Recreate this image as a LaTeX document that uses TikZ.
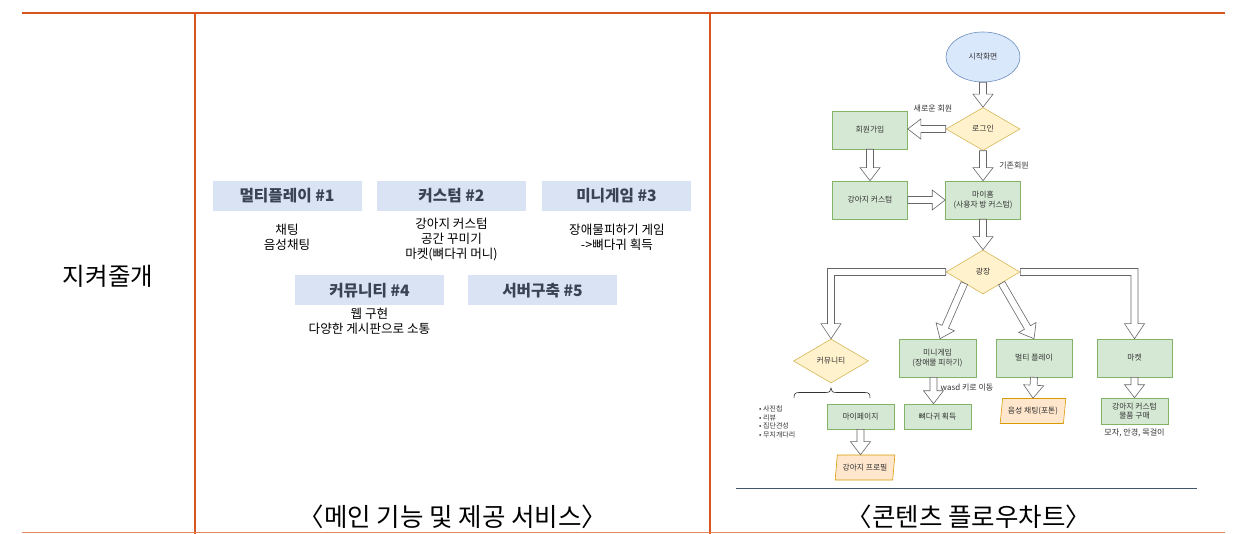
\documentclass[tikz,border=0pt]{standalone}
\usepackage{fontspec}
\setmainfont{Noto Sans CJK KR}
\usetikzlibrary{shapes.geometric,calc}
\definecolor{lineO}{HTML}{D9541E}
\definecolor{lineOL}{HTML}{E8835A}
\definecolor{navyL}{HTML}{44546A}
\definecolor{tblue}{HTML}{DAE3F3}
\definecolor{titleC}{HTML}{3A4354}
\definecolor{blueF}{HTML}{DAE8FC}
\definecolor{blueD}{HTML}{6C8EBF}
\definecolor{yelF}{HTML}{FFF2CC}
\definecolor{yelD}{HTML}{D6B656}
\definecolor{grnF}{HTML}{D5E8D4}
\definecolor{grnD}{HTML}{82B366}
\definecolor{orgF}{HTML}{FFE6CC}
\definecolor{orgD}{HTML}{D79B00}
\definecolor{arrD}{HTML}{666666}
\definecolor{fcText}{HTML}{333333}
\tikzset{
  fc/.style={font=\fontsize{7.8}{9.2}\selectfont, text=fcText, inner sep=0pt, align=center},
  ellbox/.style={fc, ellipse, draw=blueD, fill=blueF, line width=0.6pt, minimum width=74pt, minimum height=50pt},
  gbox/.style={fc, rectangle, draw=grnD, fill=grnF, line width=0.6pt, minimum width=75pt, minimum height=38pt},
  sbox/.style={gbox, minimum width=67pt, minimum height=25pt},
  ydia/.style={fc, diamond, draw=yelD, fill=yelF, line width=0.6pt, minimum width=74pt, minimum height=43pt},
  para/.style={fc, trapezium, trapezium left angle=76, trapezium right angle=104, trapezium stretches=true, draw=orgD, fill=orgF, line width=0.6pt, minimum height=25pt},
  harrow/.style={draw=arrD, fill=white, line width=0.6pt, line join=miter},
  elab/.style={fc, font=\fontsize{8}{9}\selectfont},
  tbox/.style={fill=tblue, minimum width=149pt, minimum height=30pt, inner sep=0pt, font=\fontsize{15.7}{17}\selectfont\bfseries, text=titleC},
  body/.style={font=\fontsize{12.6}{14.8}\selectfont, align=center, inner sep=0pt},
  captxt/.style={font=\fontsize{25.5}{28}\selectfont, inner sep=0pt}
}
\newcommand\harr[2]{%
  \coordinate (hbA) at ($(#2)!13pt!(#1)$);
  \draw[harrow] ($(#1)!3.5pt!90:(#2)$) -- ($(hbA)!3.5pt!90:(#2)$) -- ($(hbA)!10pt!90:(#2)$) -- (#2) -- ($(hbA)!10pt!-90:(#2)$) -- ($(hbA)!3.5pt!-90:(#2)$) -- ($(#1)!3.5pt!-90:(#2)$) -- cycle;}
\begin{document}
\begin{tikzpicture}[x=1pt,y=-1pt]
\useasboundingbox (0,0) rectangle (1239,534);
% table lines
\draw[lineO, line width=1.6pt] (22,13) -- (1225,13);
\draw[lineO, line width=1.4pt] (195,13) -- (195,534);
\draw[lineO, line width=1.4pt] (710,13) -- (710,534);
\draw[lineOL, line width=1.2pt] (22,532.6) -- (1225,532.6);
\draw[navyL, line width=0.8pt] (736,488.5) -- (1197,488.5);
% left cell
\node[captxt, font=\fontsize{24.5}{27}\selectfont] (name) at (108,276) {지켜줄개};
% middle cell
\node[tbox] (t1) at (287,196) {멀티플레이 \#1};
\node[tbox] (t2) at (451.5,196) {커스텀 \#2};
\node[tbox] (t3) at (616.5,196) {미니게임 \#3};
\node[tbox] (t4) at (369.5,290.5) {커뮤니티 \#4};
\node[tbox] (t5) at (542.5,290.5) {서버구축 \#5};
\node[body] (b1) at (287,237.5) {채팅\\음성채팅};
\node[body] (b2) at (451.5,239.5) {강아지 커스텀\\공간 꾸미기\\마켓(뼈다귀 머니)};
\node[body] (b3) at (617,237.5) {장애물피하기 게임\\->뼈다귀 획득};
\node[body] (b4) at (369.5,321) {웹 구현\\다양한 게시판으로 소통};
\node[captxt] (cap1) at (453,517) {〈메인 기능 및 제공 서비스〉};
\node[captxt] (cap2) at (969,517) {〈콘텐츠 플로우차트〉};
% flowchart nodes
\node[ellbox] (start) at (983,57) {시작화면};
\node[ydia] (login) at (983,129) {로그인};
\node[gbox] (signup) at (870,130) {회원가입};
\node[gbox] (dogc) at (870,200) {강아지 커스텀};
\node[gbox] (home) at (983,200) {마이홈\\(사용자 방 커스텀)};
\node[ydia, minimum height=44pt] (gj) at (983,272) {광장};
\node[ydia, minimum width=75pt, minimum height=44pt] (cm) at (831,361) {커뮤니티};
\node[gbox, minimum width=77pt] (mg) at (937.5,358) {미니게임\\(장애물 피하기)};
\node[gbox, minimum width=76pt] (mp) at (1034,358) {멀티 플레이};
\node[gbox] (mk) at (1134.5,358) {마켓};
\node[sbox] (bone) at (937.5,416.5) {뼈다귀 획득};
\node[para, minimum width=66pt] (voice) at (1033,411) {음성 채팅(포톤)};
\node[sbox, minimum height=26pt] (buy) at (1134.5,411) {강아지 커스텀\\물품 구매};
\node[fc, font=\fontsize{8.1}{9}\selectfont] (note) at (1134.5,432.5) {모자, 안경, 목걸이};
\node[sbox] (mypage) at (860.5,416.5) {마이페이지};
\node[para, minimum width=60pt] (prof) at (865,467.5) {강아지 프로필};
\node[fc, font=\fontsize{7}{8.6}\selectfont, align=left, anchor=north west] (list) at (759,405.5) {•~사진첩\\•~리뷰\\•~집단견성\\•~무지개다리};
% brace under community
\draw[fcText, line width=0.6pt] (794,398) .. controls (794,394) and (795,392.5) .. (799,392.5) -- (826,392.5) .. controls (829.5,392.5) and (831,391) .. (831,388) .. controls (831,391) and (832.5,392.5) .. (836,392.5) -- (865,392.5) .. controls (869,392.5) and (870,394) .. (870,398);
% edge labels
\node[elab] (lnew) at (933,109) {새로운 회원};
\node[elab] (lold) at (1014,166) {기존회원};
\node[elab] (lwasd) at (967,388) {wasd 키로 이동};
% straight hollow arrows
\harr{start.south}{login.north}
\coordinate (signupR) at (signup.east |- login.west);
\harr{login.west}{signupR}
\harr{signup.south}{dogc.north}
\harr{login.south}{home.north}
\coordinate (homeL) at (home.west |- dogc.east);
\harr{dogc.east}{homeL}
\harr{home.south}{gj.north}
\coordinate (gjsw) at ($(gj.south)!0.5!(gj.west)$);
\coordinate (gjse) at ($(gj.south)!0.5!(gj.east)$);
\coordinate (mgtop) at ($(mg.north)+(2.5,0)$);
\harr{gjsw}{mgtop}
\harr{gjse}{mp.north}
\coordinate (mgb) at ($(mg.south)+(-4,0)$);
\coordinate (bonet) at (mgb |- bone.north);
\harr{mgb}{bonet}
\harr{mp.south}{voice.north}
\harr{mk.south}{buy.north}
\coordinate (proft) at (mypage.south |- prof.north);
\harr{mypage.south}{proft}
% bent hollow arrows
\draw[harrow] ($(gj.west)+(0,-3.5)$) -- ($(cm.north |- gj.west)+(-3.5,-3.5)$) -- ($(cm.north)+(-3.5,-15)$) -- ($(cm.north)+(-10,-15)$) -- (cm.north) -- ($(cm.north)+(10,-15)$) -- ($(cm.north)+(3.5,-15)$) -- ($(cm.north |- gj.west)+(3.5,3.5)$) -- ($(gj.west)+(0,3.5)$) -- cycle;
\draw[harrow] ($(gj.east)+(0,-3.5)$) -- ($(mk.north |- gj.east)+(3.5,-3.5)$) -- ($(mk.north)+(3.5,-15)$) -- ($(mk.north)+(10,-15)$) -- (mk.north) -- ($(mk.north)+(-10,-15)$) -- ($(mk.north)+(-3.5,-15)$) -- ($(mk.north |- gj.east)+(-3.5,3.5)$) -- ($(gj.east)+(0,3.5)$) -- cycle;
\end{tikzpicture}
\end{document}
